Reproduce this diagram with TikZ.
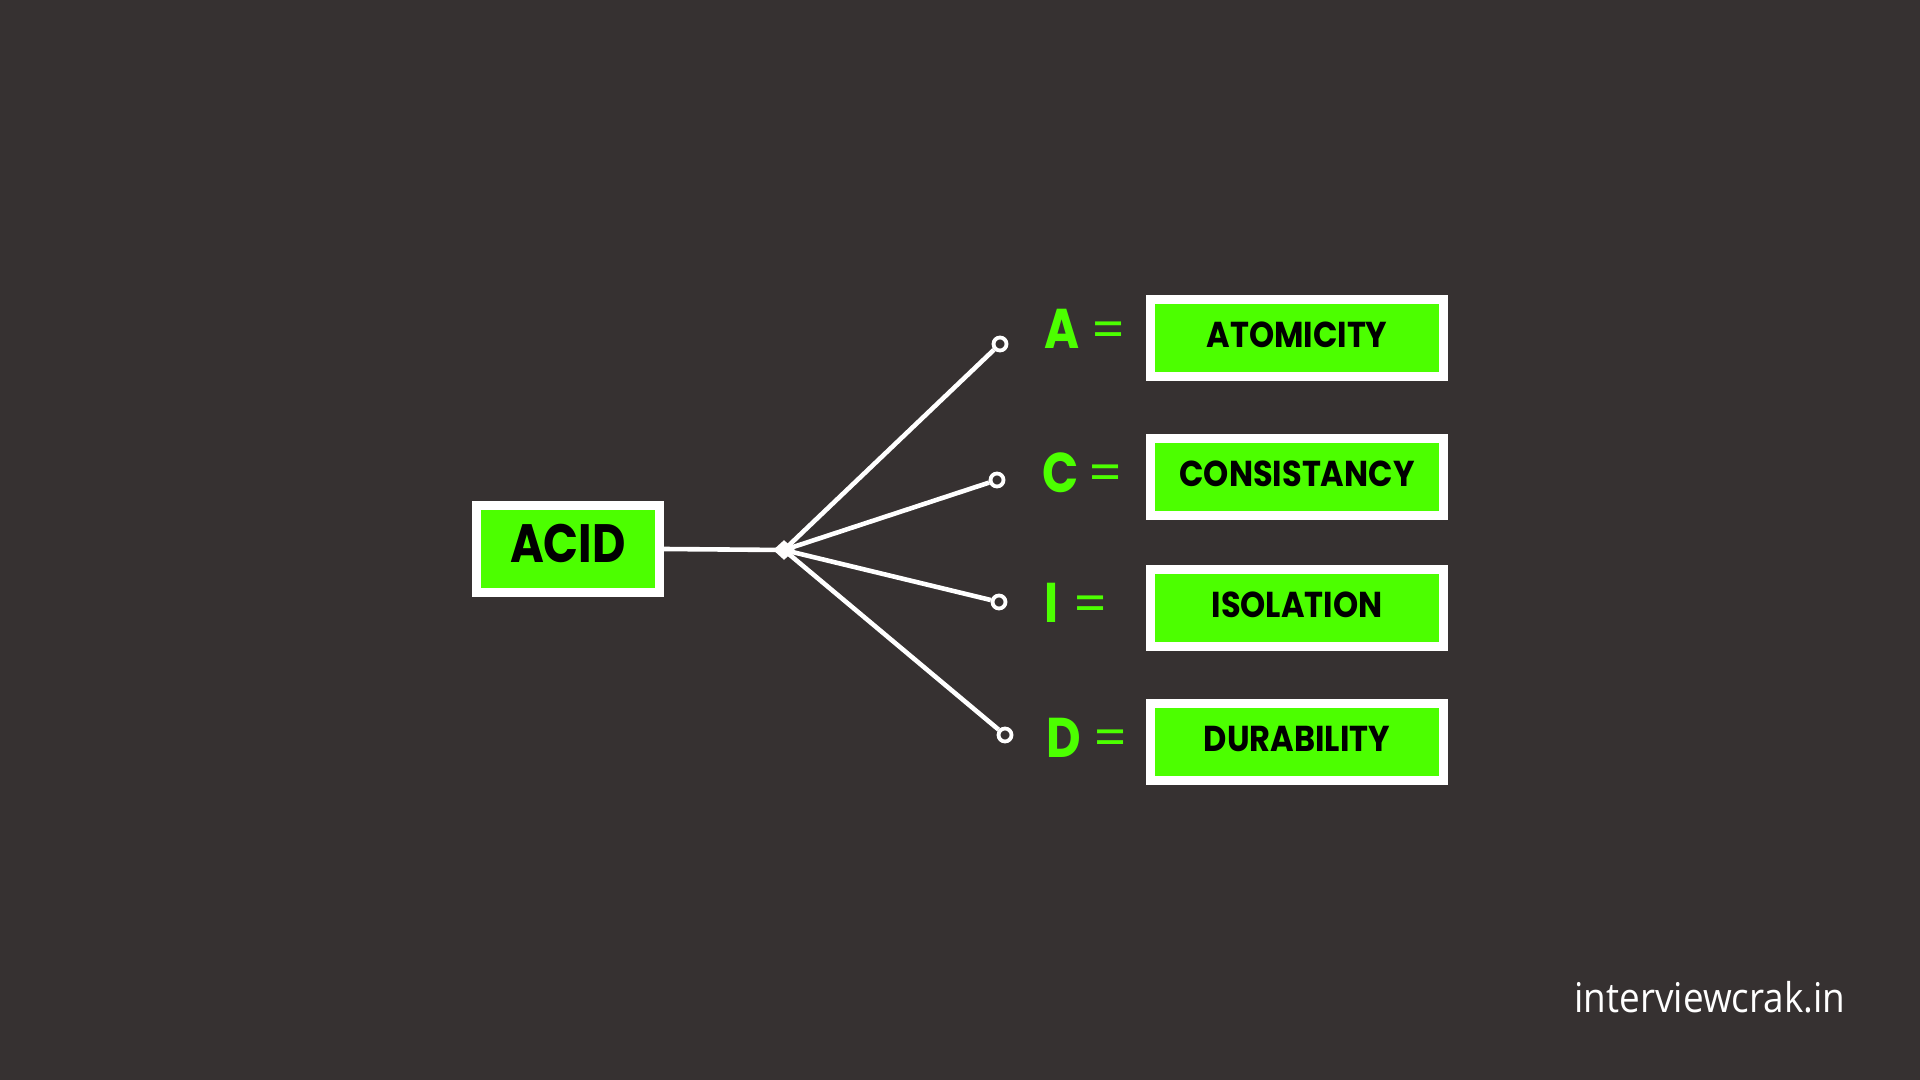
\documentclass[tikz,border=0pt]{standalone}
\usepackage{fontspec}
\setmainfont{Poppins}
\newfontfamily\boxfont{Poppins}[FakeStretch=0.89]
\newfontfamily\acidfont{Poppins}[FakeStretch=0.85]
\newfontfamily\letfont{Poppins}[FakeStretch=0.85]
\newfontfamily\wmfont{Open Sans}[FakeStretch=0.9]
\usetikzlibrary{shapes.geometric}
\definecolor{bg}{RGB}{54,49,49}
\definecolor{lime}{RGB}{76,255,0}
\tikzset{
  greenbox/.style={draw=white, line width=4.5pt, fill=lime, inner sep=0pt, text=black,
    font=\boxfont\bfseries\fontsize{18}{20}\selectfont, minimum width=146.5pt, minimum height=38.5pt,
    text height=12.6pt, text depth=3pt},
  acidbox/.style={greenbox, minimum width=91.5pt, minimum height=43.5pt,
    font=\acidfont\bfseries\fontsize{27}{30}\selectfont, text height=18.9pt, text depth=5pt},
  letter/.style={text=lime, inner sep=0pt, font=\letfont\bfseries\fontsize{28}{30}\selectfont},
  eqsign/.style={text=lime, inner sep=0pt, font=\fontsize{25}{28}\selectfont},
  endpt/.style={circle, draw=white, fill=bg, line width=1.9pt, minimum size=6.5pt, inner sep=0pt},
  hubpt/.style={diamond, fill=white, minimum width=11pt, minimum height=10pt, inner sep=0pt},
  wire/.style={white, line width=2.3pt}
}
\begin{document}
\begin{tikzpicture}[x=0.5pt, y=-0.5pt]
\fill[bg] (0,0) rectangle (1920,1080);
\useasboundingbox (0,0) rectangle (1920,1080);

\node[acidbox] (acid) at (568,549) {ACID};
\node[hubpt] (hub) at (784,550) {};

\node[endpt] (pa) at (1000,344) {};
\node[endpt] (pc) at (997,480) {};
\node[endpt] (pi) at (999,602) {};
\node[endpt] (pd) at (1005,735) {};

\draw[wire] (acid.east) -- (hub.center);
\draw[wire] (hub.center) -- (pa);
\draw[wire] (hub.center) -- (pc);
\draw[wire] (hub.center) -- (pi);
\draw[wire] (hub.center) -- (pd);

\node[letter] (la) at (1062,329) {A};
\node[eqsign] (ea) at (1109,335) {=};
\node[letter] (lc) at (1061,473) {C};
\node[eqsign] (ec) at (1106,478) {=};
\node[letter] (li) at (1052,603) {I};
\node[eqsign] (ei) at (1091,609) {=};
\node[letter] (ld) at (1064,738) {D};
\node[eqsign] (ed) at (1111,743) {=};

\node[greenbox] (ba) at (1297,338) {ATOMICITY};
\node[greenbox] (bc) at (1297,477) {CONSISTANCY};
\node[greenbox] (bi) at (1297,608) {ISOLATION};
\node[greenbox] (bd) at (1297,742) {DURABILITY};

\node[anchor=base west, inner sep=0pt, text=white, font=\wmfont\fontsize{20.5}{24}\selectfont] (wm) at (1574,1012) {interviewcrak.in};
\end{tikzpicture}
\end{document}
